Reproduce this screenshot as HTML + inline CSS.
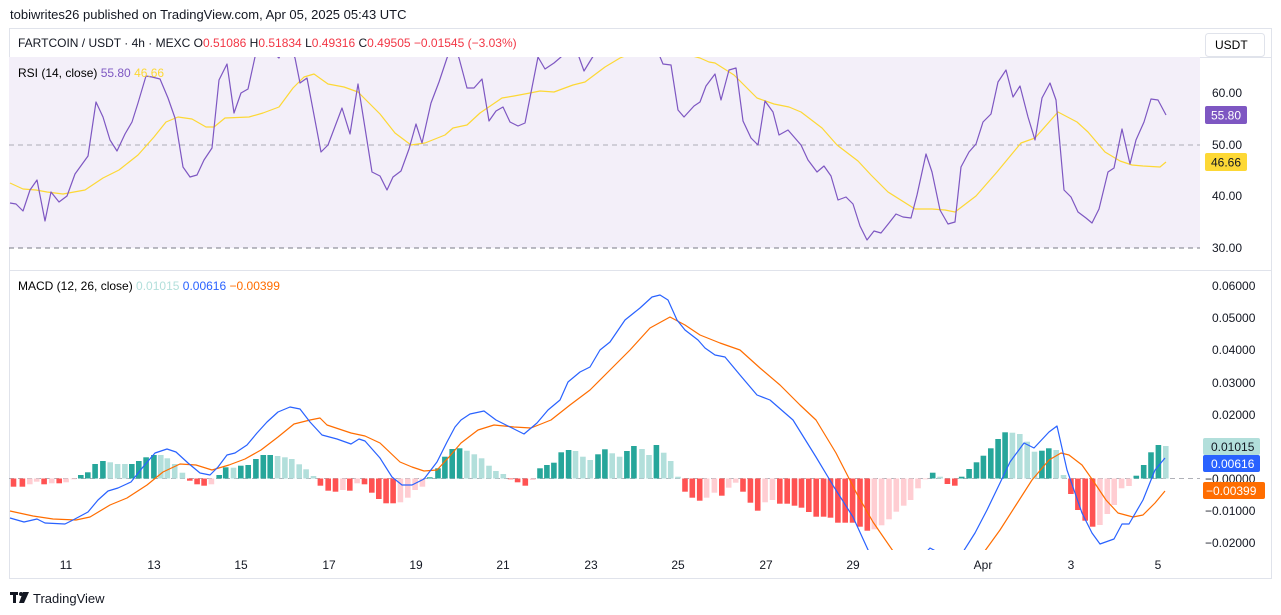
<!DOCTYPE html>
<html><head><meta charset="utf-8">
<style>
body{margin:0;background:#fff;width:1281px;height:615px;overflow:hidden;font-family:"Liberation Sans",sans-serif;color:#131722}
svg{position:absolute;left:0;top:0}
</style></head><body>
<svg id="s" width="1281" height="615" xmlns="http://www.w3.org/2000/svg" font-family="Liberation Sans, sans-serif">
<defs>
<clipPath id="rc"><rect x="9" y="57" width="1191" height="212"/></clipPath>
<clipPath id="mc"><rect x="9" y="271" width="1191" height="279"/></clipPath>
</defs>
<text x="10" y="19" font-size="13" fill="#131722">tobiwrites26 published on TradingView.com, Apr 05, 2025 05:43 UTC</text>
<rect x="9.5" y="28.5" width="1262" height="550" fill="#fff" stroke="#e0e3eb"/>
<line x1="9" y1="57.5" x2="1271" y2="57.5" stroke="#e0e3eb"/>
<text x="18" y="47" font-size="12" fill="#131722">FARTCOIN / USDT · 4h · MEXC  <tspan>O</tspan><tspan fill="#f23645">0.51086</tspan> <tspan>H</tspan><tspan fill="#f23645">0.51834</tspan> <tspan>L</tspan><tspan fill="#f23645">0.49316</tspan> <tspan>C</tspan><tspan fill="#f23645">0.49505  −0.01545 (−3.03%)</tspan></text>
<rect x="1205.5" y="33.5" width="59" height="23" rx="3" fill="#fff" stroke="#e0e3eb"/>
<text x="1215" y="49" font-size="12">USDT</text>
<!-- RSI pane -->
<rect x="9" y="57" width="1191" height="191" fill="#f3eff9"/>
<line x1="9" y1="145" x2="1200" y2="145" stroke="#9598a1" stroke-dasharray="5,4" stroke-width="0.8"/>
<line x1="9" y1="248" x2="1200" y2="248" stroke="#787b86" stroke-dasharray="5,4"/>
<line x1="9" y1="270.5" x2="1271" y2="270.5" stroke="#e0e3eb"/>
<g id="rsi" clip-path="url(#rc)"></g>
<text x="18" y="77" font-size="12">RSI (14, close) <tspan fill="#7e57c2">55.80</tspan> <tspan fill="#fdd835">46.66</tspan></text>
<g font-size="12" fill="#131722">
<text x="1212" y="97">60.00</text><text x="1212" y="149">50.00</text><text x="1212" y="200">40.00</text><text x="1212" y="252">30.00</text>
</g>
<rect x="1205" y="106" width="42" height="18" rx="2" fill="#7e57c2"/><text x="1211" y="119.5" font-size="12" fill="#fff">55.80</text>
<rect x="1205" y="153" width="42" height="18" rx="2" fill="#fdd835"/><text x="1211" y="166.5" font-size="12" fill="#131722">46.66</text>
<!-- MACD pane -->
<line x1="9" y1="478.5" x2="1200" y2="478.5" stroke="#9598a1" stroke-dasharray="5,4" stroke-width="0.8"/>
<g id="macd" clip-path="url(#mc)"></g>
<text x="18" y="290" font-size="12">MACD (12, 26, close) <tspan fill="#b2dfdb">0.01015</tspan> <tspan fill="#2962ff">0.00616</tspan> <tspan fill="#ff6d00">−0.00399</tspan></text>
<g font-size="12" fill="#131722">
<text x="1212" y="290">0.06000</text><text x="1212" y="322">0.05000</text><text x="1212" y="354">0.04000</text><text x="1212" y="387">0.03000</text><text x="1212" y="419">0.02000</text><text x="1205" y="483">−0.00000</text><text x="1205" y="515">−0.01000</text><text x="1205" y="547">−0.02000</text>
</g>
<rect x="1203" y="438" width="57" height="17" rx="2" fill="#b2dfdb"/><text x="1211" y="451" font-size="12" fill="#131722">0.01015</text>
<rect x="1203" y="455" width="57" height="17" rx="2" fill="#2962ff"/><text x="1211" y="468" font-size="12" fill="#fff">0.00616</text>
<rect x="1203" y="482" width="62" height="17" rx="2" fill="#ff6d00"/><text x="1206" y="495" font-size="12" fill="#fff">−0.00399</text>
<g font-size="12" fill="#131722" text-anchor="middle">
<text x="66" y="569">11</text><text x="154" y="569">13</text><text x="241" y="569">15</text><text x="329" y="569">17</text><text x="416" y="569">19</text><text x="503" y="569">21</text><text x="591" y="569">23</text><text x="678" y="569">25</text><text x="766" y="569">27</text><text x="853" y="569">29</text><text x="983" y="569">Apr</text><text x="1071" y="569">3</text><text x="1158" y="569">5</text>
</g>
<g fill="#131722"><rect x="10" y="592" width="8" height="3"/><rect x="13" y="592" width="3" height="11"/><circle cx="21" cy="594" r="2"/><polygon points="23,592 29,592 24,603 19,603"/></g>
<text x="33" y="603" font-size="13" fill="#131722">TradingView</text>
</svg>
<script>
var NS="http://www.w3.org/2000/svg";
function pl(g,pts,c,w){var p=document.createElementNS(NS,"polyline");p.setAttribute("points",pts.map(function(a){return a[0]+","+a[1]}).join(" "));p.setAttribute("fill","none");p.setAttribute("stroke",c);p.setAttribute("stroke-width",w);p.setAttribute("stroke-linejoin","round");g.appendChild(p);}
var rsiP=[[10,203],[16,204],[23,211],[30,190],[37,180],[45,221],[51,192],[59,202],[67,196],[75,174],[88,156],[96,102],[103,117],[110,140],[117,151],[125,134],[132,122],[138,103],[146,76],[152,77],[160,79],[168,98],[175,118],[183,167],[190,177],[197,175],[204,160],[212,148],[219,80],[227,64],[234,113],[241,93],[248,89],[255,57],[262,35],[270,50],[279,58],[287,40],[295,58],[300,83],[307,78],[321,152],[328,145],[342,108],[350,134],[358,84],[372,172],[380,176],[387,190],[393,177],[401,171],[409,149],[416,124],[422,143],[431,103],[439,82],[447,58],[453,45],[459,58],[467,88],[474,88],[482,79],[489,121],[496,111],[503,107],[510,122],[518,126],[525,123],[538,57],[545,69],[554,63],[561,57],[570,45],[579,57],[584,71],[592,58],[605,40],[620,35],[640,40],[655,45],[663,64],[671,65],[678,110],[684,117],[694,106],[700,102],[706,86],[715,74],[721,100],[729,70],[736,68],[743,121],[751,138],[758,145],[765,101],[773,112],[779,135],[788,130],[801,145],[808,160],[817,172],[824,166],[831,176],[838,200],[846,197],[853,204],[860,226],[867,240],[874,231],[881,233],[889,223],[896,214],[903,217],[911,218],[917,195],[926,154],[932,172],[940,210],[948,224],[955,222],[961,167],[969,152],[976,144],[983,122],[991,114],[998,82],[1006,70],[1013,97],[1020,86],[1028,117],[1035,140],[1042,98],[1050,83],[1056,100],[1064,190],[1071,197],[1078,212],[1086,218],[1092,223],[1099,209],[1108,172],[1114,168],[1122,129],[1130,164],[1136,140],[1144,122],[1151,99],[1158,100],[1166,115]];
var maP=[[10,183],[23,189],[36,190],[47,192],[63,194],[85,190],[103,178],[119,170],[138,155],[154,137],[166,122],[178,117],[192,119],[206,127],[214,127],[225,118],[249,117],[263,113],[279,107],[293,88],[304,77],[314,74],[328,84],[344,87],[358,92],[380,114],[395,133],[411,145],[425,143],[445,135],[453,128],[467,125],[480,113],[502,98],[514,96],[530,93],[540,91],[554,92],[573,85],[585,82],[605,67],[620,58],[640,50],[670,50],[700,58],[709,62],[715,63],[734,75],[746,87],[757,98],[774,104],[789,107],[801,112],[822,128],[837,145],[858,161],[871,175],[888,192],[915,209],[932,209],[945,210],[955,212],[976,196],[997,172],[1021,143],[1035,138],[1058,112],[1077,122],[1088,132],[1105,152],[1120,161],[1132,165],[1143,166],[1160,167],[1166,162]];
var rg=document.getElementById("rsi");pl(rg,maP,"#fdd835",1.2);pl(rg,rsiP,"#7e57c2",1.2);
var C={g:"#26a69a",l:"#b2dfdb",r:"#ff5252",p:"#ffcdd2"};
var b2=[[33,200,"r"],[55,200,"r"],[73,193,"p"],[90,185,"p"],[108,193,"r"],[127,190,"p"],[145,190,"r"],[162,187,"p"],[180,177,"p"],[198,165,"g"],[215,157,"g"],[233,132,"g"],[252,123,"g"],[270,127,"l"],[288,132,"l"],[306,132,"l"],[323,132,"g"],[340,123,"g"],[358,112,"g"],[377,105,"g"],[394,105,"l"],[410,115,"l"],[428,132,"l"],[447,158,"l"],[465,182,"r"],[483,193,"r"],[500,197,"r"],[518,193,"p"],[537,165,"g"],[553,142,"g"],[572,143,"l"],[590,137,"g"],[608,135,"g"],[627,117,"g"],[645,105,"g"],[662,105,"g"],[680,108,"l"],[698,112,"l"],[715,117,"l"],[733,133,"l"],[750,148,"l"],[768,168,"l"],[785,197,"r"],[804,212,"r"],[822,215,"r"],[840,210,"p"],[857,212,"r"],[875,190,"p"],[893,193,"r"],[911,218,"r"],[928,237,"r"],[946,250,"r"],[963,250,"r"],[981,247,"p"],[999,233,"p"],[1017,210,"p"],[1035,200,"p"],[1053,172,"g"],[1073,145,"g"],[1090,110,"g"],[1108,87,"g"],[1126,85,"g"],[1144,92,"l"],[1162,103,"l"],[1180,115,"l"],[1198,137,"l"],[1215,153,"l"],[1233,162,"l"],[1251,177,"r"],[1268,187,"r"],[1287,197,"r"],[1305,180,"p"],[1323,145,"g"],[1340,135,"g"],[1357,128,"g"],[1375,97,"g"],[1393,90,"g"],[1410,93,"l"],[1428,110,"l"],[1446,120,"l"],[1465,103,"g"],[1482,88,"g"],[1500,100,"l"],[1518,110,"l"],[1536,93,"g"],[1553,78,"g"]];
var b3=[[5,87,"l"],[22,105,"l"],[40,75,"g"],[58,98,"l"],[75,123,"l"],[93,170,"l"],[110,215,"r"],[128,233,"r"],[146,242,"r"],[163,233,"p"],[182,218,"p"],[200,227,"r"],[217,203,"p"],[234,188,"p"],[252,215,"r"],[270,248,"r"],[288,272,"r"],[306,247,"p"],[324,240,"p"],[342,251,"r"],[360,251,"r"],[378,257,"r"],[395,263,"r"],[413,276,"r"],[431,290,"r"],[449,290,"r"],[466,293,"r"],[484,308,"r"],[502,308,"r"],[520,308,"r"],[538,320,"r"],[556,332,"r"],[573,328,"p"],[591,316,"p"],[609,298,"p"],[627,275,"p"],[645,257,"p"],[662,240,"p"],[680,205,"p"],[698,178,"p"],[716,158,"g"],[734,170,"l"],[752,192,"r"],[770,197,"r"],[787,170,"g"],[805,147,"g"],[823,127,"g"],[840,107,"g"],[858,85,"g"],[876,57,"g"],[893,37,"g"],[911,38,"l"],[929,42,"l"],[947,65,"l"],[965,95,"l"],[983,92,"g"],[1000,85,"g"],[1018,90,"l"],[1036,165,"l"],[1054,222,"r"],[1071,270,"r"],[1089,302,"r"],[1107,320,"r"],[1125,315,"p"],[1143,282,"p"],[1160,255,"p"],[1178,205,"p"],[1196,198,"p"],[1214,167,"g"],[1232,135,"g"],[1250,97,"g"],[1268,75,"g"],[1286,78,"l"]];
var mg=document.getElementById("macd"),z=478.5;
function bar(x,zy){var y=420+zy/3;var r=document.createElementNS(NS,"rect");var t=Math.min(y,z),h=Math.max(Math.abs(y-z),0.8);r.setAttribute("x",(x-2.8).toFixed(1));r.setAttribute("y",t.toFixed(1));r.setAttribute("width","5.6");r.setAttribute("height",h.toFixed(1));return r;}
b2.forEach(function(b){var r=bar(b[0]/2.45,b[1]);r.setAttribute("fill",C[b[2]]);mg.appendChild(r);});
b3.forEach(function(b){var r=bar(640+b[0]/2.446,b[1]);r.setAttribute("fill",C[b[2]]);mg.appendChild(r);});
var blue=[[10,518],[24,522],[37,519],[45,523],[65,524],[73,520],[88,512],[98,500],[108,491],[118,488],[131,482],[143,467],[155,453],[167,449],[176,452],[188,463],[200,473],[210,475],[218,467],[227,455],[235,453],[247,445],[257,433],[267,422],[278,412],[290,407],[300,409],[310,422],[322,435],[337,439],[351,444],[359,439],[365,441],[380,458],[392,477],[402,485],[412,485],[424,479],[437,462],[447,442],[455,427],[461,420],[470,414],[484,411],[496,420],[506,425],[524,434],[537,423],[548,410],[560,400],[568,382],[580,372],[590,367],[600,350],[610,342],[625,320],[640,308],[652,297],[660,295],[668,300],[677,320],[685,330],[698,340],[705,348],[715,355],[725,357],[740,375],[757,395],[770,400],[793,420],[816,457],[834,487],[853,517],[869,552],[890,585],[915,565],[930,548],[945,556],[963,552],[975,533],[987,510],[1000,483],[1010,462],[1024,443],[1034,448],[1049,432],[1057,426],[1067,470],[1082,513],[1092,533],[1100,544],[1114,539],[1122,524],[1129,524],[1143,500],[1155,470],[1165,458]];
var orng=[[10,511],[33,516],[53,519],[76,520],[90,517],[110,505],[127,498],[147,485],[163,472],[180,464],[196,465],[212,470],[229,465],[245,459],[261,450],[278,437],[294,424],[310,420],[320,418],[327,425],[351,433],[365,436],[380,443],[400,462],[412,467],[424,471],[437,470],[449,457],[461,443],[478,430],[494,425],[514,427],[531,428],[551,420],[570,405],[590,390],[610,370],[630,350],[650,328],[670,317],[685,325],[700,335],[720,343],[740,350],[760,368],[780,385],[800,405],[816,420],[836,453],[857,494],[873,522],[893,551],[914,578],[940,590],[967,575],[987,548],[1000,530],[1016,505],[1032,480],[1049,460],[1061,453],[1069,455],[1082,465],[1094,482],[1106,500],[1118,513],[1133,517],[1143,515],[1155,503],[1165,491]];
pl(mg,orng,"#ff6d00",1.2);pl(mg,blue,"#2962ff",1.2);
</script>
</body></html>
